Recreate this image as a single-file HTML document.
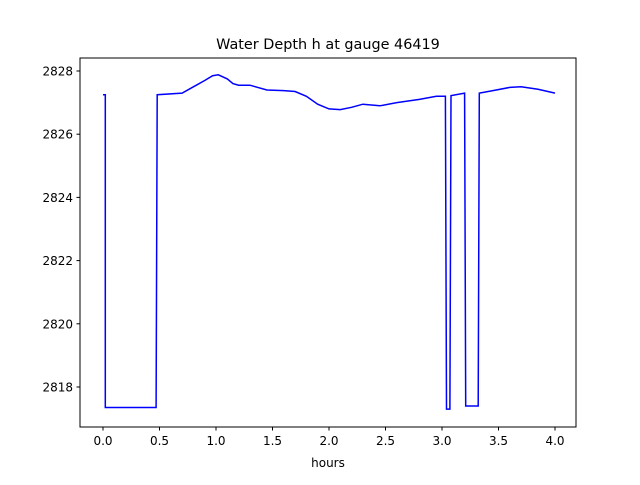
<!DOCTYPE html>
<html><head><meta charset="utf-8"><style>
body{margin:0;background:#fff;}
svg text{font-family:"DejaVu Sans","Liberation Sans",sans-serif;fill:#000;}
</style></head><body>
<svg width="640" height="480" xmlns="http://www.w3.org/2000/svg">
<rect width="640" height="480" fill="#fff"/>
<text x="328" y="49" font-size="14.4" text-anchor="middle">Water Depth h at gauge 46419</text>
<g id="ticks"></g>
<path id="line" fill="none" stroke="#0000ff" stroke-width="1.5"/>
<rect x="80" y="58" width="496" height="369" fill="none" stroke="#000" stroke-width="1"/>
<text x="328" y="467" font-size="12" text-anchor="middle">hours</text>
</svg>
<script>
const times=[0,0.02,0.02,0.47,0.48,0.7,0.8,0.9,0.97,1.02,1.1,1.15,1.2,1.3,1.45,1.6,1.7,1.8,1.9,2.0,2.1,2.2,2.3,2.45,2.6,2.8,2.95,3.03,3.04,3.07,3.08,3.2,3.21,3.32,3.33,3.45,3.6,3.7,3.85,4.0];
const depths=[2827.25,2827.25,2817.35,2817.35,2827.25,2827.3,2827.5,2827.7,2827.85,2827.88,2827.75,2827.6,2827.55,2827.55,2827.4,2827.38,2827.35,2827.2,2826.95,2826.8,2826.78,2826.85,2826.95,2826.9,2827.0,2827.1,2827.2,2827.2,2817.3,2817.3,2827.22,2827.3,2817.4,2817.4,2827.3,2827.38,2827.48,2827.5,2827.42,2827.3];
const xTicks=[0.0,0.5,1.0,1.5,2.0,2.5,3.0,3.5,4.0];
const yTicks=[2818,2820,2822,2824,2826,2828];
const X=v=>103+v*113;
const Y=v=>387-(v-2818)*31.6;
const ns="http://www.w3.org/2000/svg";
const g=document.getElementById('ticks');
xTicks.forEach(t=>{
 const l=document.createElementNS(ns,'line');
 l.setAttribute('x1',X(t));l.setAttribute('x2',X(t));l.setAttribute('y1',427);l.setAttribute('y2',430.5);l.setAttribute('stroke','#000');
 
 
 g.appendChild(l);
 const tx=document.createElementNS(ns,'text');
 tx.setAttribute('x',X(t));tx.setAttribute('y',445);tx.setAttribute('font-size','12');tx.setAttribute('text-anchor','middle');
 tx.textContent=t.toFixed(1);
 
 
 g.appendChild(tx);
});
yTicks.forEach(t=>{
 const l=document.createElementNS(ns,'line');
 l.setAttribute('x1',76.5);l.setAttribute('x2',80);l.setAttribute('y1',Y(t));l.setAttribute('y2',Y(t));l.setAttribute('stroke','#000');
 
 
 g.appendChild(l);
 const tx=document.createElementNS(ns,'text');
 tx.setAttribute('x',73);tx.setAttribute('y',Y(t)+4.5);tx.setAttribute('font-size','12');tx.setAttribute('text-anchor','end');
 tx.textContent=t;
 
 
 g.appendChild(tx);
});
document.getElementById('line').setAttribute('d',times.map((t,i)=>(i?'L':'M')+X(t).toFixed(1)+','+Y(depths[i]).toFixed(1)).join(''));
</script>
</body></html>
